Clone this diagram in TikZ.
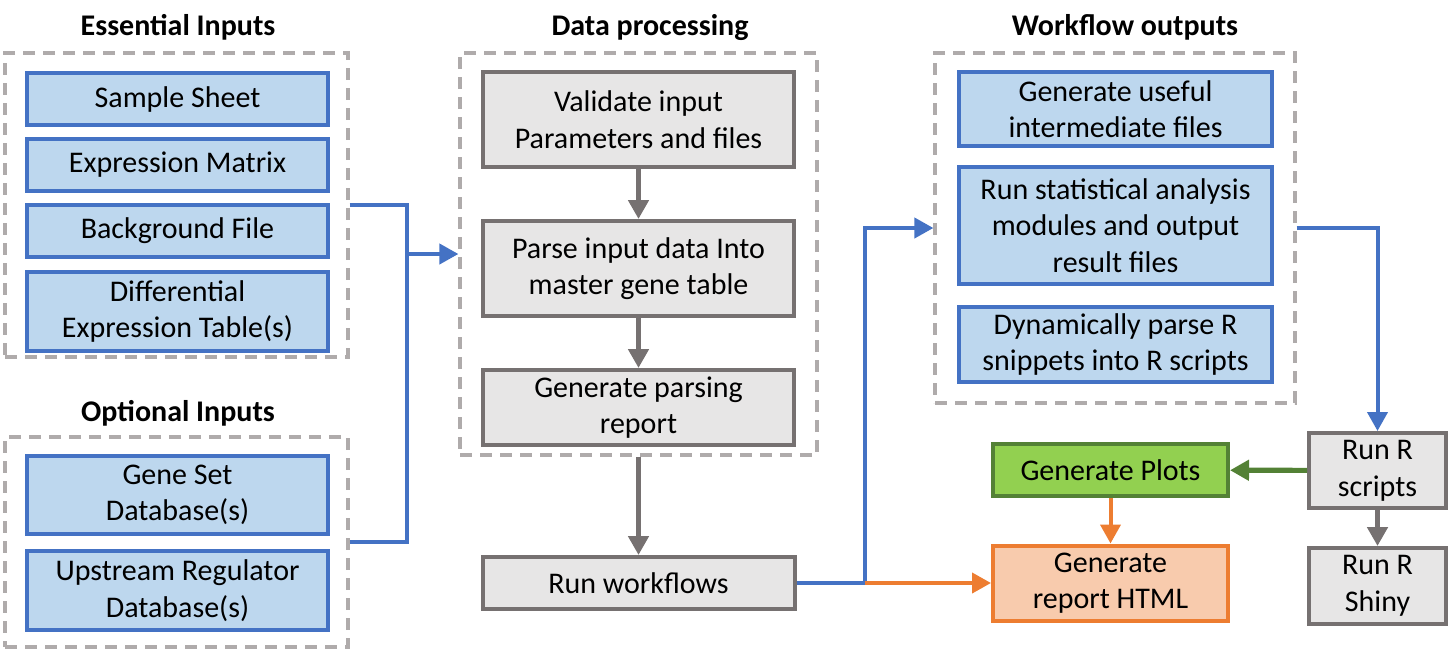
\documentclass[tikz,border=0pt]{standalone}
\usepackage{fontspec}
\setmainfont{Carlito}
\usepackage{xcolor}
\usetikzlibrary{arrows.meta,positioning}
\definecolor{boxblue}{HTML}{BDD7EE}
\definecolor{lineblue}{HTML}{4472C4}
\definecolor{boxgray}{HTML}{E7E6E6}
\definecolor{linegray}{HTML}{767171}
\definecolor{dashgray}{HTML}{AFABAB}
\definecolor{boxgreen}{HTML}{92D050}
\definecolor{linegreen}{HTML}{538135}
\definecolor{boxorange}{HTML}{F8CBAD}
\definecolor{lineorange}{HTML}{ED7D31}

\begin{document}
\begin{tikzpicture}[x=0.5pt,y=-0.5pt,font=\fontsize{15}{18.3}\selectfont,>={Triangle[length=9.5pt,width=10pt]}]
  \tikzstyle{every node}=[inner sep=0pt,align=center]
  \tikzstyle{group}=[draw=dashgray,line width=1.6pt,dash pattern=on 6pt off 4pt]
  \tikzstyle{heading}=[anchor=base,font=\fontsize{15}{18.3}\selectfont\bfseries]
  \tikzstyle{inbox}=[draw=lineblue,fill=boxblue,line width=2pt]
  \tikzstyle{procbox}=[draw=linegray,fill=boxgray,line width=2pt]
  \tikzstyle{bluelink}=[draw=lineblue,line width=2pt]
  \tikzstyle{graylink}=[draw=linegray,line width=2.4pt]
  \useasboundingbox (0,0) rectangle (1456,649);
  % inputs
  \node[heading] (t_ess) at (178,35) {Essential Inputs};
  \node[group,minimum width=171.5pt,minimum height=152pt] (ess) at (176.5,205) {};
  \node[inbox,minimum width=150.5pt,minimum height=26pt] (in_1) at (177.5,99) {Sample Sheet};
  \node[inbox,minimum width=150.5pt,minimum height=26pt] (in_2) [below=5pt of in_1] {Expression Matrix};
  \node[inbox,minimum width=150.5pt,minimum height=26pt] (in_3) [below=5pt of in_2] {Background File};
  \node[inbox,minimum width=150.5pt,minimum height=39.5pt] (in_4) [below=5.5pt of in_3] {Differential\\Expression Table(s)};
  \node[heading] (t_opt) at (178,421) {Optional Inputs};
  \node[group,minimum width=171.5pt,minimum height=105pt] (opt) at (176.5,542) {};
  \node[inbox,minimum width=150.5pt,minimum height=39pt] (in_5) at (177.5,495) {Gene Set\\Database(s)};
  \node[inbox,minimum width=150.5pt,minimum height=39.5pt] (in_6) [below=6.5pt of in_5] {Upstream Regulator\\Database(s)};
  % data processing
  \node[heading] (t_data) at (650,35) {Data processing};
  \node[group,minimum width=178.5pt,minimum height=201pt] (data) at (638.5,254) {};
  \node[procbox,minimum width=155.5pt,minimum height=47.5pt] (p_1) at (638.5,119.5) {Validate input\\Parameters and files};
  \node[procbox,minimum width=155.5pt,minimum height=47.5pt] (p_2) [below=25pt of p_1] {Parse input data Into\\master gene table};
  \node[procbox,minimum width=155.5pt,minimum height=37.5pt] (p_3) [below=25pt of p_2] {Generate parsing\\report};
  \node[procbox,minimum width=156pt,minimum height=26pt] (run) at (638.5,583) {Run workflows};
  % workflow outputs
  \node[heading] (t_wf) at (1125,35) {Workflow outputs};
  \node[group,minimum width=180pt,minimum height=175pt] (wf) at (1115,228) {};
  \node[inbox,minimum width=156.5pt,minimum height=37pt] (o_1) at (1115.5,109) {Generate useful\\intermediate files};
  \node[inbox,minimum width=156.5pt,minimum height=58.5pt] (o_2) at (1115.5,225.5) {Run statistical analysis\\modules and output\\result files};
  \node[inbox,minimum width=156.5pt,minimum height=37.5pt] (o_3) at (1115.5,344.5) {Dynamically parse R\\snippets into R scripts};
  \node[procbox,minimum width=68.5pt,minimum height=37.5pt] (scripts) at (1377.5,470.5) {Run R\\scripts};
  \node[procbox,minimum width=68.5pt,minimum height=38pt] (shiny) [below=18pt of scripts] {Run R\\Shiny};
  \node[draw=linegreen,fill=boxgreen,line width=2pt,minimum width=117.5pt,minimum height=26pt] (plots) at (1110.5,470) {Generate Plots};
  \node[draw=lineorange,fill=boxorange,line width=2pt,minimum width=117.5pt,minimum height=37.5pt] (html) at (1110.5,583) {Generate\\report HTML};
  \coordinate (split) at (865,583);
  \draw[bluelink] (ess.east) -- ++(57,0) coordinate (join) |- (opt.east);
  \draw[bluelink,->] (join |- data.west) -- (data.west);
  \draw[graylink,->] (p_1) -- (p_2);
  \draw[graylink,->] (p_2) -- (p_3);
  \draw[graylink,->] (data.south) -- (run.north);
  \draw[graylink,->] (scripts) -- (shiny);
  \draw[bluelink,->] (run.east) -- (split) |- (wf.west);
  \draw[draw=lineorange,line width=2pt,->] (split) -- (html.west);
  \draw[draw=lineorange,line width=2pt,->] (plots) -- (html);
  \draw[draw=linegreen,line width=2.6pt,->] (scripts) -- (plots);
  \draw[bluelink,->] (wf.east) -| (scripts.north);
\end{tikzpicture}
\end{document}
